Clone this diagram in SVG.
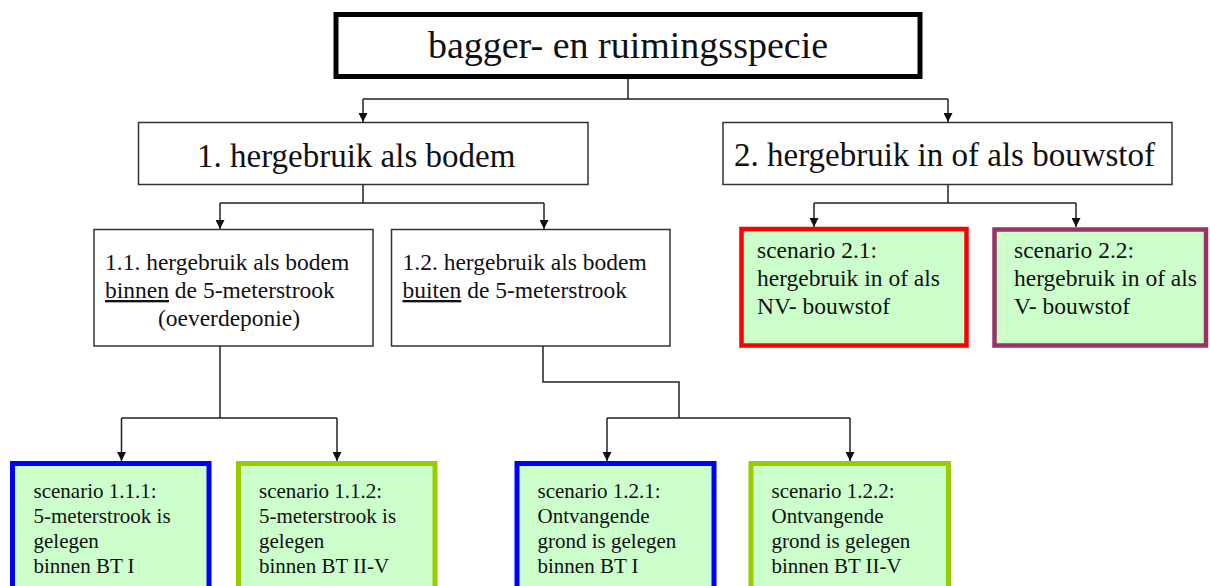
<svg xmlns="http://www.w3.org/2000/svg" width="1210" height="586" viewBox="0 0 1210 586">
<defs>
<marker id="arr" viewBox="0 0 10 10" refX="10" refY="5" markerWidth="9" markerHeight="9" markerUnits="userSpaceOnUse" orient="auto">
<path d="M0,0 L10,5 L0,10 z" fill="#111"/>
</marker>
<style>
.t{font-family:"Liberation Serif","Times New Roman",serif;fill:#111}
.box{fill:#fff;stroke:#333;stroke-width:1.5}
.sc{fill:#ccffcc;stroke-width:4.5}
.blue{stroke:#0000ff;stroke-width:5}
.green{stroke:#99cc00;stroke-width:5}
.red{stroke:#ff0000}
.purple{stroke:#993366}
.c{fill:none;stroke:#222;stroke-width:1.5}
.a{marker-end:url(#arr)}
.s{font-size:23.5px}
.b{font-size:21px}
</style>
</defs>
<rect width="1210" height="586" fill="#fff"/>
<g id="connectors">
<path class="c" d="M628,79 V99 M363,99 H948"/>
<path class="c a" d="M363,99 V122"/>
<path class="c a" d="M948,99 V122"/>
<path class="c" d="M363,185 V203 M220,203 H544"/>
<path class="c a" d="M220,203 V229"/>
<path class="c a" d="M544,203 V229"/>
<path class="c" d="M948,185 V203 M814,203 H1076"/>
<path class="c a" d="M814,203 V227"/>
<path class="c a" d="M1076,203 V227"/>
<path class="c" d="M220,346 V418 M121.5,418 H337"/>
<path class="c a" d="M121.5,418 V461"/>
<path class="c a" d="M337,418 V461"/>
<path class="c" d="M543,346 V382 H679 V418 M607,418 H850"/>
<path class="c a" d="M607,418 V461"/>
<path class="c a" d="M850,418 V461"/>
</g>
<g id="root">
<rect x="336" y="14.5" width="584" height="62" fill="#fff" stroke="#000" stroke-width="5"/>
<text class="t" x="628" y="57.5" font-size="38" text-anchor="middle">bagger- en ruimingsspecie</text>
</g>
<g id="n1">
<rect class="box" x="138.5" y="122.5" width="449.5" height="62"/>
<text class="t" x="197" y="167" font-size="33">1. hergebruik als bodem</text>
</g>
<g id="n2">
<rect class="box" x="723" y="122.5" width="449" height="62"/>
<text class="t" x="734" y="166" font-size="33">2. hergebruik in of als bouwstof</text>
</g>
<g id="n11">
<rect class="box" x="94" y="229.5" width="279" height="116.5"/>
<text class="t s" x="105" y="270">1.1. hergebruik als bodem</text>
<text class="t s" x="105" y="298"><tspan text-decoration="underline">binnen</tspan> de 5-meterstrook</text>
<text class="t s" x="229" y="326" text-anchor="middle">(oeverdeponie)</text>
</g>
<g id="n12">
<rect class="box" x="391.5" y="229.5" width="278.5" height="116.5"/>
<text class="t s" x="402.5" y="270">1.2. hergebruik als bodem</text>
<text class="t s" x="402.5" y="298"><tspan text-decoration="underline">buiten</tspan> de 5-meterstrook</text>
</g>
<g id="s21">
<rect class="sc red" x="741.5" y="229" width="225" height="116.5"/>
<text class="t s" x="757" y="258">scenario 2.1:</text>
<text class="t s" x="757" y="286">hergebruik in of als</text>
<text class="t s" x="757" y="314">NV- bouwstof</text>
</g>
<g id="s22">
<rect class="sc purple" x="994.5" y="229.5" width="211.5" height="116"/>
<text class="t s" x="1014" y="258">scenario 2.2:</text>
<text class="t s" x="1014" y="286">hergebruik in of als</text>
<text class="t s" x="1014" y="314">V- bouwstof</text>
</g>
<g id="s111">
<rect class="sc blue" x="12.5" y="463.5" width="196.5" height="140"/>
<text class="t b" x="33.5" y="498">scenario 1.1.1:</text>
<text class="t b" x="33.5" y="523">5-meterstrook is</text>
<text class="t b" x="33.5" y="548">gelegen</text>
<text class="t b" x="33.5" y="573">binnen BT I</text>
</g>
<g id="s112">
<rect class="sc green" x="238.5" y="463.5" width="196.5" height="140"/>
<text class="t b" x="259" y="498">scenario 1.1.2:</text>
<text class="t b" x="259" y="523">5-meterstrook is</text>
<text class="t b" x="259" y="548">gelegen</text>
<text class="t b" x="259" y="573">binnen BT II-V</text>
</g>
<g id="s121">
<rect class="sc blue" x="517" y="463.5" width="197" height="140"/>
<text class="t b" x="537.5" y="498">scenario 1.2.1:</text>
<text class="t b" x="537.5" y="523">Ontvangende</text>
<text class="t b" x="537.5" y="548">grond is gelegen</text>
<text class="t b" x="537.5" y="573">binnen BT I</text>
</g>
<g id="s122">
<rect class="sc green" x="751" y="463.5" width="197.5" height="140"/>
<text class="t b" x="771.5" y="498">scenario 1.2.2:</text>
<text class="t b" x="771.5" y="523">Ontvangende</text>
<text class="t b" x="771.5" y="548">grond is gelegen</text>
<text class="t b" x="771.5" y="573">binnen BT II-V</text>
</g>
</svg>
